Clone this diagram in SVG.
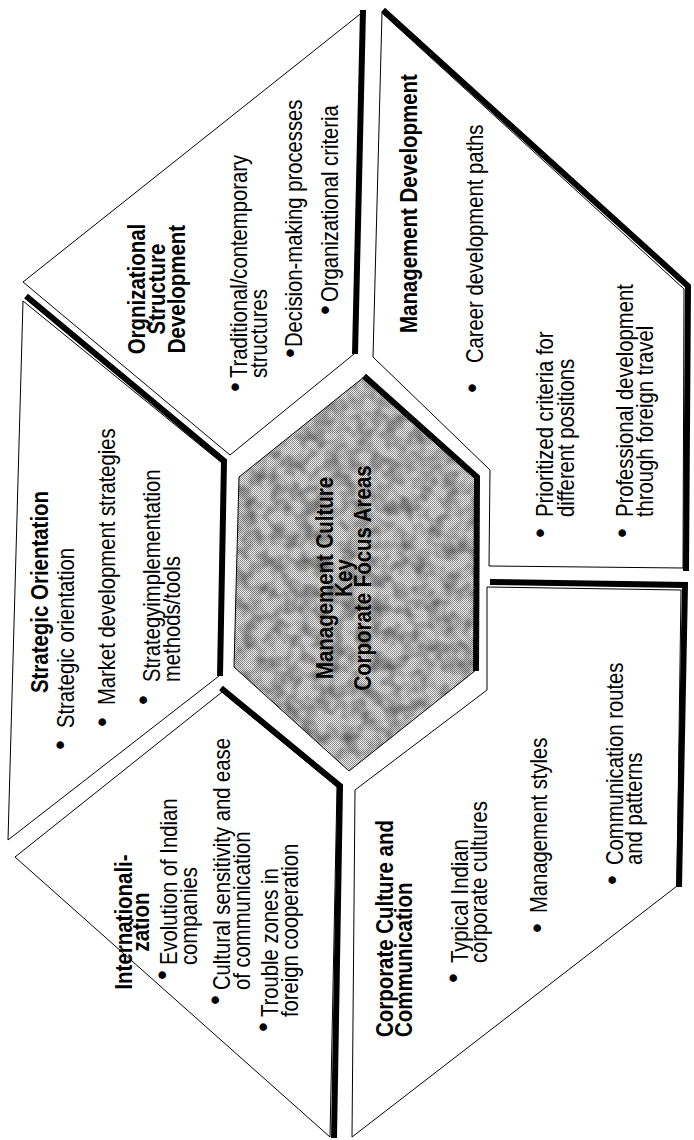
<svg xmlns="http://www.w3.org/2000/svg" width="694" height="1140" viewBox="0 0 694 1140">
  <style>
    .panel { fill: #fff; stroke: #000; stroke-width: 1; stroke-linejoin: miter; }
    .shadow { fill: none; stroke: #000; stroke-width: 6; stroke-linejoin: miter; stroke-linecap: butt; }
    .t { font-family: "Liberation Sans", Arial, Helvetica, sans-serif; font-size: 23px; fill: #000; }
    .b { font-weight: bold; font-size: 23.5px; }
    .m { text-anchor: middle; }
    .dot { font-family: "Liberation Sans", Arial, sans-serif; font-size: 28px; text-anchor: middle; fill: #000; }
  </style>
  <defs>
    <!-- halftone screen for the hub -->
    <pattern id="screen" width="2" height="2" patternUnits="userSpaceOnUse">
      <rect width="2" height="2" fill="#ececec"/>
      <rect width="1" height="1" fill="#8c8c8c"/>
      <rect x="1" y="1" width="1" height="1" fill="#959595"/>
    </pattern>
    <filter id="mottle" x="0" y="0" width="100%" height="100%">
      <feTurbulence type="fractalNoise" baseFrequency="0.07" numOctaves="2" seed="7"/>
      <feColorMatrix type="matrix" values="0 0 0 0 0  0 0 0 0 0  0 0 0 0 0  0.9 0 0 0 -0.32"/>
    </filter>
    <clipPath id="hubClip">
      <polygon points="364,377 477,478 476,670 349,771 234,667 239,477"/>
    </clipPath>
  </defs>

  <!-- Organizational structure (upper left) -->
  <g id="org-structure">
    <polygon class="panel" points="23,282 364,11 354,354 230,455"/>
    <polyline class="shadow" points="363,10 355,354"/>
    <text class="t b m" transform="translate(145 289) rotate(-90) scale(0.87 1)">
      <tspan x="0" y="0">Orgnizational</tspan><tspan x="0" dy="20">Structure</tspan><tspan x="0" dy="20">Development</tspan>
    </text>
    <text class="dot" transform="translate(244 387) rotate(-90)">•</text>
    <text class="t" transform="translate(247 378) rotate(-90) scale(0.88 1)">
      <tspan x="0" y="0">Traditional/contemporary</tspan><tspan x="0" dy="20">structures</tspan>
    </text>
    <text class="dot" transform="translate(299 353) rotate(-90)">•</text>
    <text class="t" transform="translate(302 347) rotate(-90) scale(0.88 1)">Decision-making processes</text>
    <text class="dot" transform="translate(334 310) rotate(-90)">•</text>
    <text class="t" transform="translate(338 302) rotate(-90) scale(0.88 1)">Organizational criteria</text>
  </g>

  <!-- Management development (upper right) -->
  <g id="mgmt-development">
    <polygon class="panel" points="382,13 684,289 683,568 489,566 490,470 373,357"/>
    <polyline class="shadow" points="383,10 688,286 686,571"/>
    <text class="t b" transform="translate(417 333) rotate(-90) scale(0.87 1)">Management Development</text>
    <text class="dot" transform="translate(481 388) rotate(-90)">•</text>
    <text class="t" transform="translate(483 363) rotate(-90) scale(0.88 1)">Career development paths</text>
    <text class="dot" transform="translate(549 533) rotate(-90)">•</text>
    <text class="t" transform="translate(553 517) rotate(-90) scale(0.88 1)">
      <tspan x="0" y="0">Prioritized criteria for</tspan><tspan x="0" dy="21">different positions</tspan>
    </text>
    <text class="dot" transform="translate(631 533) rotate(-90)">•</text>
    <text class="t" transform="translate(633 517) rotate(-90) scale(0.88 1)">
      <tspan x="0" y="0">Professional development</tspan><tspan x="0" dy="20">through foreign travel</tspan>
    </text>
  </g>

  <!-- Strategic orientation (left) -->
  <g id="strategic-orientation">
    <polygon class="panel" points="23,301 222,463 219,676 8,840"/>
    <polyline class="shadow" points="26,296 224,461 220,676"/>
    <text class="t b m" transform="translate(48 592) rotate(-90) scale(0.87 1)">Strategic Orientation</text>
    <text class="dot" transform="translate(69 745) rotate(-90)">•</text>
    <text class="t" transform="translate(74 728) rotate(-90) scale(0.88 1)">Strategic orientation</text>
    <text class="dot" transform="translate(111 722) rotate(-90)">•</text>
    <text class="t" transform="translate(115 705) rotate(-90) scale(0.88 1)">Market development strategies</text>
    <text class="dot" transform="translate(152 700) rotate(-90)">•</text>
    <text class="t" transform="translate(160 682) rotate(-90) scale(0.88 1)">
      <tspan x="0" y="0">Strategyimplementation</tspan><tspan x="0" dy="20">methods/tools</tspan>
    </text>
  </g>

  <!-- Internationalization (lower left) -->
  <g id="internationalization">
    <polygon class="panel" points="15,857 222,692 337,787 330,1137"/>
    <polyline class="shadow" points="221,688 340,786 334,1138"/>
    <text class="t b m" transform="translate(132 922) rotate(-90) scale(0.87 1)">
      <tspan x="0" y="0">Internationali-</tspan><tspan x="0" dy="17">zation</tspan>
    </text>
    <text class="dot" transform="translate(171 975) rotate(-90)">•</text>
    <text class="t" transform="translate(177 965) rotate(-90) scale(0.88 1)">
      <tspan x="0" y="0">Evolution of Indian</tspan><tspan x="0" dy="20">companies</tspan>
    </text>
    <text class="dot" transform="translate(224 1000) rotate(-90)">•</text>
    <text class="t" transform="translate(230 990) rotate(-90) scale(0.88 1)">
      <tspan x="0" y="0">Cultural sensitivity and ease</tspan><tspan x="0" dy="20">of communication</tspan>
    </text>
    <text class="dot" transform="translate(272 1027) rotate(-90)">•</text>
    <text class="t" transform="translate(278 1017) rotate(-90) scale(0.88 1)">
      <tspan x="0" y="0">Trouble zones in</tspan><tspan x="0" dy="20">foreign cooperation</tspan>
    </text>
  </g>

  <!-- Corporate culture and communication (lower right) -->
  <g id="corporate-culture">
    <polygon class="panel" points="487,587 681,590 677,886 352,1137 355,790 487,690"/>
    <polyline class="shadow" points="490,582 685,585 679,887"/>
    <text class="t b" transform="translate(393 1037) rotate(-90) scale(0.87 1)">
      <tspan x="0" y="0">Corporate Culture and</tspan><tspan x="0" dy="19">Communication</tspan>
    </text>
    <text class="dot" transform="translate(462 978) rotate(-90)">•</text>
    <text class="t" transform="translate(468 963) rotate(-90) scale(0.88 1)">
      <tspan x="0" y="0">Typical Indian</tspan><tspan x="0" dy="19">corporate cultures</tspan>
    </text>
    <text class="dot" transform="translate(546 928) rotate(-90)">•</text>
    <text class="t" transform="translate(547 913) rotate(-90) scale(0.88 1)">Management styles</text>
    <text class="dot" transform="translate(621 880) rotate(-90)">•</text>
    <text class="t" transform="translate(623 865) rotate(-90) scale(0.88 1)">
      <tspan x="0" y="0">Communication routes</tspan><tspan x="0" dy="19">and patterns</tspan>
    </text>
  </g>

  <!-- Central hub -->
  <g id="hub">
    <polygon points="364,377 477,478 476,670 349,771 234,667 239,477" fill="url(#screen)"/>
    <rect x="230" y="370" width="252" height="405" filter="url(#mottle)" clip-path="url(#hubClip)"/>
    <polygon points="364,377 477,478 476,670 349,771 234,667 239,477" fill="none" stroke="#000" stroke-width="1"/>
    <polyline class="shadow" points="364,376 477,477 476,671" stroke-width="5"/>
    <text class="t b m" transform="translate(333 578) rotate(-90) scale(0.87 1)">
      <tspan x="0" y="0">Management Culture</tspan><tspan x="0" dy="19">Key</tspan><tspan x="0" dy="19">Corporate Focus Areas</tspan>
    </text>
  </g>

  <!-- no connectors between the areas -->
  <g id="connectors"/>
</svg>
